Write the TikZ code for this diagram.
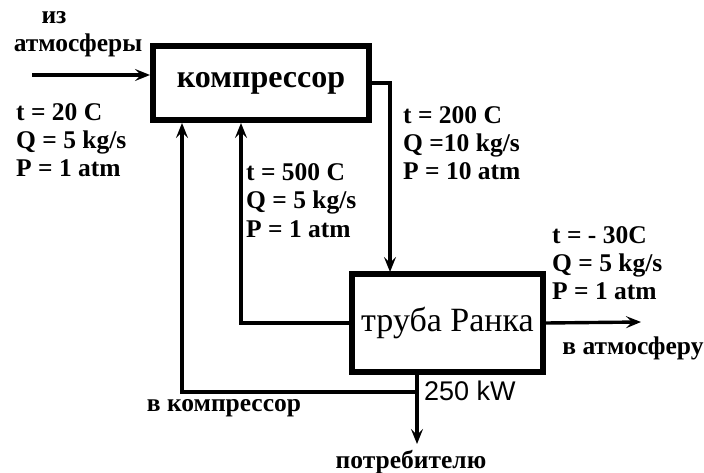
\documentclass[tikz,border=0pt]{standalone}
\usepackage{fontspec}
\setmainfont{Liberation Serif}
\setsansfont{Liberation Sans}
\usetikzlibrary{arrows.meta, positioning}

\tikzset{
    unit/.style={draw, line width=6pt, inner sep=0pt, font=\rmfamily},
    flow/.style={line width=3.4pt, -{Stealth[length=15pt, width=12pt, inset=6pt]}},
    lbl/.style={font=\bfseries\fontsize{25.5}{28}\selectfont, inner sep=0pt},
    vals/.style={lbl, align=left, anchor=north west}
}

\begin{document}
\begin{tikzpicture}[x=1pt, y=-1pt]
    \useasboundingbox (0,0) rectangle (704,473);
    % Units
    \node[unit, minimum width=216pt, minimum height=74pt,
          font=\bfseries\fontsize{32}{34}\selectfont] (comp) at (261,83) {компрессор};
    \node[unit, minimum width=191pt, minimum height=98pt,
          font=\fontsize{34}{36}\selectfont] (ranque) at (447.5,323) {труба Ранка};

    % Free ends
    \coordinate (air) at (32,75);
    \coordinate (hotin) at (390,272);
    \coordinate (hotret) at (241,123);
    \coordinate (split) at (417,392);
    \coordinate (coldret) at (182,123);
    \coordinate (pwrtop) at (417,373);
    \coordinate (pwrout) at (417,444);
    \coordinate (coldout) at (641,322);

    % Flows
    \draw[flow] (air) -- (air -| comp.west);
    \draw[flow] (comp.east) -| (hotin);
    \draw[flow] (ranque.west) -| (hotret);
    \draw[flow] (split) -| (coldret);
    \draw[flow] (pwrtop) -- (pwrout);
    \draw[flow] (ranque.east) -- (coldout);

    % Labels
    \node[lbl] (fromair1) at (54,18) {из};
    \node[lbl] (fromair2) at (78,45) {атмосферы};
    \node[vals] (inval) at (16,103) {t = 20 C\\ Q = 5 kg/s\\ P = 1 atm};
    \node[vals] (hotval) at (403,106) {t = 200 C\\ Q =10 kg/s\\ P = 10 atm};
    \node[vals] (retval) at (246,163) {t = 500 C\\ Q = 5 kg/s\\[1pt] P = 1 atm};
    \node[vals] (coldval) at (552,226) {t = - 30C\\ Q = 5 kg/s\\ P = 1 atm};
    \node[lbl] (toatm) at (633,348) {в атмосферу};
    \node[lbl] (tocomp) at (224,408) {в компрессор};
    \node[lbl] (touser) at (411,462) {потребителю};
    \node[font=\sffamily\fontsize{27}{30}\selectfont, anchor=west, inner sep=0pt] (power) at (424,391) {250 kW};
\end{tikzpicture}
\end{document}
